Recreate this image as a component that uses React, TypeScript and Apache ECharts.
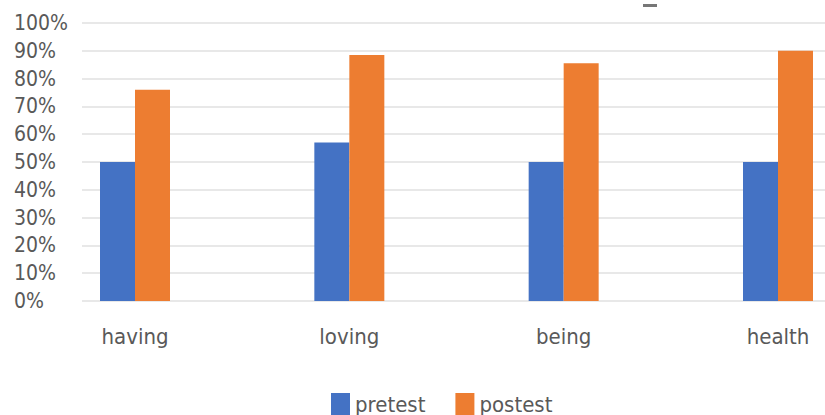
import React, { useEffect, useRef } from "react";
import * as echarts from "echarts";

const categories = ["having", "loving", "being", "health"];
const pretest = [0.5, 0.57, 0.5, 0.5];
const postest = [0.76, 0.885, 0.855, 0.9];
const seriesNames = ["pretest", "postest"];

const FONT = "'Liberation Sans Narrow', 'DejaVu Sans Condensed', 'Liberation Sans', sans-serif";
const TEXT = "#595959";

export default function App() {
  const ref = useRef<HTMLDivElement>(null);
  useEffect(() => {
    if (!ref.current) return;
    const chart = echarts.init(ref.current, null, { renderer: "svg" });
    chart.setOption({
      animation: false,
      backgroundColor: "#ffffff",
      textStyle: { fontFamily: FONT },
      legend: {
        data: seriesNames,
        left: 326,
        top: 388,
        icon: "rect",
        itemWidth: 19,
        itemHeight: 22,
        itemGap: 30,
        textStyle: { fontSize: 22, color: TEXT, fontFamily: FONT },
      },
      grid: [
        { left: 135, width: 643, top: 23, height: 278 },
        { left: 82, right: 0, top: 23, height: 278 },
      ],
      xAxis: [
        {
          type: "category",
          gridIndex: 0,
          data: categories,
          boundaryGap: false,
          axisLine: { show: false },
          axisTick: { show: false },
          splitLine: { show: false },
          axisLabel: { fontSize: 22, color: TEXT, margin: 24, fontFamily: FONT },
        },
        {
          type: "category",
          gridIndex: 1,
          data: categories,
          show: false,
        },
      ],
      yAxis: [
        { type: "value", gridIndex: 0, min: 0, max: 1, show: false, splitLine: { show: false } },
        {
          type: "value",
          gridIndex: 1,
          min: 0,
          max: 1,
          interval: 0.1,
          axisLine: { show: false },
          axisTick: { show: false },
          splitLine: { lineStyle: { color: "#e8e8e8", width: 2 } },
          axisLabel: {
            align: "left",
            margin: 68,
            fontSize: 21,
            color: TEXT,
            fontFamily: FONT,
            formatter: (v: number) => Math.round(v * 100) + "%",
          },
        },
      ],
      series: [
        {
          name: seriesNames[0],
          type: "bar",
          xAxisIndex: 0,
          yAxisIndex: 0,
          data: pretest,
          barWidth: 35,
          barGap: "0%",
          itemStyle: { color: "#4472C4" },
          z: 3,
        },
        {
          name: seriesNames[1],
          type: "bar",
          xAxisIndex: 0,
          yAxisIndex: 0,
          data: postest,
          barWidth: 35,
          barGap: "0%",
          itemStyle: { color: "#ED7D31" },
          z: 3,
        },
      ],
      graphic: [
        { type: "rect", left: 643, top: 4, shape: { width: 14, height: 3 }, style: { fill: "#777777" } },
      ],
    });
    return () => chart.dispose();
  }, []);
  return (
    <div
      ref={ref}
      style={{ position: "fixed", left: 0, top: 0, width: 825, height: 415 }}
    />
  );
}
